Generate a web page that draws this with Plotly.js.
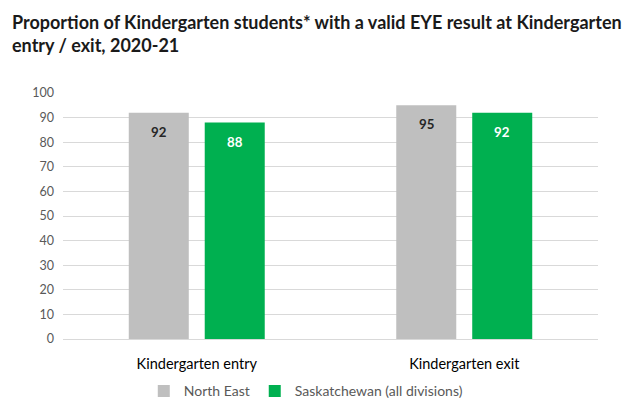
<!DOCTYPE html>
<html>
<head>
<meta charset="utf-8">
<script src="https://cdn.plot.ly/plotly-3.0.1.min.js"></script>
<style>html,body{margin:0;padding:0;background:#fff;}#chart{width:633px;height:402px;}</style>
</head>
<body>
<div id="chart"></div>
<script>
const categories = ["Kindergarten entry", "Kindergarten exit"];
const seriesNames = ["North East", "Saskatchewan (all divisions)"];
const northEast = [92, 95];
const saskatchewan = [88, 92];
const yTicks = [0, 10, 20, 30, 40, 50, 60, 70, 80, 90, 100];

const FONT = "Lato, 'Open Sans', sans-serif";
const COLORS = ["#BFBFBF", "#00B050"];
const LABEL_COLORS = ["#262626", "#FFFFFF"];

const seriesValues = [northEast, saskatchewan];

const traces = seriesValues.map((vals, i) => ({
  type: "bar", name: seriesNames[i], x: categories, y: vals,
  marker: {color: COLORS[i]}, hoverinfo: "none"
}));

// value labels inside bar tops
const annotations = [];
seriesValues.forEach((vals, i) => {
  vals.forEach((v, j) => {
    annotations.push({
      x: categories[j], y: v, xref: "x", yref: "y",
      text: "<b>" + v + "</b>", showarrow: false,
      xshift: i === 0 ? -38 : 38, yshift: -19, yanchor: "middle",
      font: {family: FONT, size: 13.3, color: LABEL_COLORS[i]}
    });
  });
});

const layout = {
  width: 633, height: 402,
  margin: {l: 63, r: 35, t: 93, b: 63, autoexpand: false},
  paper_bgcolor: "#fff", plot_bgcolor: "#fff",
  font: {family: FONT, size: 12, color: "#262626"},
  title: {
    text: "Proportion of Kindergarten students* with a valid EYE result at Kindergarten<br>entry / exit, 2020-21",
    font: {family: FONT, size: 18, color: "#1a1a1a", weight: 700},
    xref: "container", yref: "container", x: 12/633, xanchor: "left",
    y: 1 - 29/402, yanchor: "top"
  },
  barmode: "group", bargap: 0.432, bargroupgap: 0.21,
  xaxis: {
    showgrid: false, showline: false, zeroline: false, ticks: "",
    tickfont: {family: FONT, size: 14.5, color: "#000"},
    ticklabelstandoff: 14, automargin: false
  },
  yaxis: {
    range: [0, 100], tickvals: yTicks, ticktext: yTicks.map(String),
    showgrid: true, gridcolor: "#D9D9D9", gridwidth: 1,
    zeroline: true, zerolinecolor: "#D9D9D9", zerolinewidth: 1,
    showline: false, ticks: "",
    tickfont: {family: FONT, size: 12.5, color: "#595959"},
    ticklabelstandoff: 8, automargin: false
  },
  annotations: annotations,
  showlegend: true,
  legend: {
    orientation: "h", x: 0.151, xanchor: "left", y: -0.213, yanchor: "middle",
    font: {family: FONT, size: 14, color: "#595959"},
    traceorder: "normal", itemwidth: 30, tracegroupgap: 0
  }
};

Plotly.newPlot("chart", traces, layout, {staticPlot: true, displayModeBar: false});
</script>
</body>
</html>
